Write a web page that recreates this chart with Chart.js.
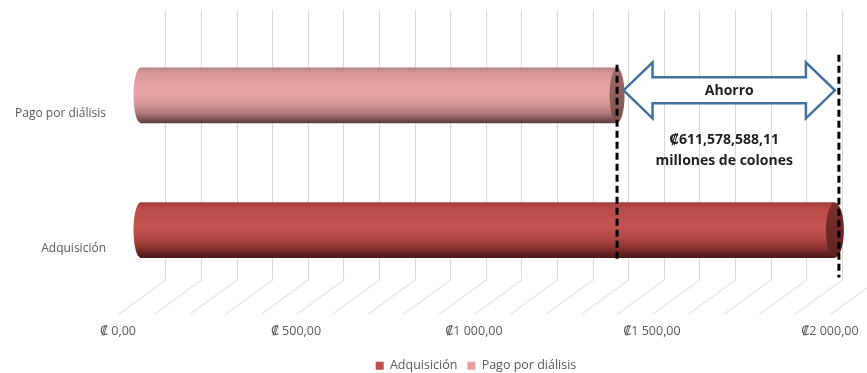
<!DOCTYPE html>
<html>
<head>
<meta charset="utf-8">
<script src="https://cdn.jsdelivr.net/npm/chart.js@4/dist/chart.umd.min.js"></script>
<style>
  html, body { margin: 0; padding: 0; background: #ffffff; }
  #wrap { width: 867px; height: 373px; position: relative; }
</style>
</head>
<body>
<div id="wrap"><canvas id="c"></canvas></div>
<script>
// ---- data ----
const categories = ['Pago por diálisis', 'Adquisición'];
const seriesNames = ['Adquisición', 'Pago por diálisis'];
const adquisicionValues = [null, 1952];
const pagoDialisisValues = [1340, null];
const xTickValues = [0, 500, 1000, 1500, 2000];
const xTickLabels = ['₡ 0,00', '₡ 500,00', '₡1 000,00', '₡1 500,00', '₡2 000,00'];
const ahorroTitle = 'Ahorro';
const ahorroText = ['₡611,578,588,11', 'millones de colones'];

// ---- styles ----
const FONT = "'Open Sans', 'DejaVu Sans', sans-serif";
const GRAY = '#595959';
const GRID = '#d9d9d9';
const BAR_H = 55;
const styles = [
  { legend: '#c0504d', end: '#7e302e',
    stops: [[0,'#a03f3d'],[0.1,'#b84b48'],[0.42,'#c4534f'],[0.62,'#b64b48'],[0.82,'#8c3331'],[1,'#4a1817']] },
  { legend: '#e6a0a0', end: '#a46a6a',
    stops: [[0,'#b88383'],[0.1,'#d99999'],[0.42,'#eaa6a6'],[0.62,'#dc9c9c'],[0.82,'#b27b7b'],[1,'#5e3c3c']] }
];

function toPoints(values) {
  return values.map((v, i) => v == null ? null : { x: v, y: i + 1 }).filter(p => p);
}

function barGradient(c, yc, st) {
  const g = c.createLinearGradient(0, yc - BAR_H / 2, 0, yc + BAR_H / 2);
  st.stops.forEach(s => g.addColorStop(s[0], s[1]));
  return g;
}

function scriptBg(idx) {
  return (ctx) => {
    const chart = ctx.chart;
    if (!chart.chartArea || !ctx.raw) return styles[idx].legend;
    const yc = chart.scales.y.getPixelForValue(ctx.raw.y);
    return barGradient(chart.ctx, yc, styles[idx]);
  };
}

function zeroPad(s) { s.paddingLeft = 0; s.paddingRight = 0; s.paddingTop = 0; s.paddingBottom = 0; }

// floor (3D perspective lines) drawn from scale positions
const floorPlugin = {
  id: 'floor',
  beforeDatasetsDraw(chart) {
    const { ctx, chartArea } = chart;
    const xg = chart.scales.xg, x = chart.scales.x;
    ctx.save();
    ctx.strokeStyle = GRID;
    ctx.lineWidth = 1;
    for (let v = 0; v <= 2000; v += 100) {
      const bx = xg.getPixelForValue(v);
      const fx = x.getPixelForValue(v) - 22;
      ctx.beginPath();
      ctx.moveTo(bx + 0.5, chartArea.bottom);
      ctx.lineTo(fx + 0.5, chartArea.bottom + 35);
      ctx.stroke();
    }
    ctx.restore();
  }
};

// cylinder caps, dashed markers, arrow and text
const decoPlugin = {
  id: 'deco',
  afterDatasetsDraw(chart) {
    const { ctx } = chart;
    const ends = [];
    chart.data.datasets.forEach((ds, di) => {
      const meta = chart.getDatasetMeta(di);
      meta.data.forEach((el) => {
        const st = styles[di];
        const yc = el.y, base = el.base, end = el.x;
        const ry = BAR_H / 2;
        ctx.save();
        ctx.fillStyle = barGradient(ctx, yc, st);
        ctx.beginPath();
        ctx.ellipse(base + 0.5, yc, 7, ry, 0, Math.PI / 2, Math.PI * 1.5);
        ctx.closePath();
        ctx.fill();
        const rx = di === 0 ? 9 : 7.5;
        const eg = ctx.createLinearGradient(0, yc - ry, 0, yc + ry);
        eg.addColorStop(0, st.end);
        eg.addColorStop(1, di === 0 ? '#5e2321' : '#7d5050');
        ctx.fillStyle = eg;
        ctx.beginPath();
        ctx.ellipse(end, yc, rx, ry, 0, 0, Math.PI * 2);
        ctx.fill();
        ctx.restore();
        ends[di] = { x: end, y: yc, rx };
      });
    });
    const adq = ends[0], pago = ends[1];
    if (!adq || !pago) return;

    ctx.save();
    ctx.strokeStyle = '#000000';
    ctx.lineWidth = 3;
    ctx.setLineDash([7, 4]);
    ctx.beginPath();
    ctx.moveTo(pago.x, pago.y - BAR_H / 2 - 3);
    ctx.lineTo(pago.x, adq.y + BAR_H / 2 + 5);
    ctx.stroke();
    ctx.beginPath();
    ctx.moveTo(adq.x + 4, pago.y - BAR_H / 2 - 13);
    ctx.lineTo(adq.x + 4, adq.y + BAR_H / 2 + 20);
    ctx.stroke();
    ctx.restore();

    const x1 = pago.x + pago.rx - 1, x2 = adq.x;
    const yc = pago.y - 5;
    const hh = 28, sh = 13, hl = 29;
    ctx.save();
    ctx.beginPath();
    ctx.moveTo(x1, yc);
    ctx.lineTo(x1 + hl, yc - hh);
    ctx.lineTo(x1 + hl, yc - sh);
    ctx.lineTo(x2 - hl, yc - sh);
    ctx.lineTo(x2 - hl, yc - hh);
    ctx.lineTo(x2, yc);
    ctx.lineTo(x2 - hl, yc + hh);
    ctx.lineTo(x2 - hl, yc + sh);
    ctx.lineTo(x1 + hl, yc + sh);
    ctx.lineTo(x1 + hl, yc + hh);
    ctx.closePath();
    ctx.fillStyle = '#ffffff';
    ctx.fill();
    ctx.strokeStyle = '#41719c';
    ctx.lineWidth = 2.5;
    ctx.stroke();

    const cx = (x1 + x2) / 2;
    ctx.fillStyle = '#1f1f1f';
    ctx.textAlign = 'center';
    ctx.textBaseline = 'middle';
    ctx.font = "bold 14px " + FONT;
    ctx.fillText(ahorroTitle, cx, yc + 1);
    ctx.fillText(ahorroText[0], cx - 5, yc + 50);
    ctx.fillText(ahorroText[1], cx - 5, yc + 71);
    ctx.restore();
  }
};

const chart = new Chart(document.getElementById('c'), {
  type: 'bar',
  data: {
    datasets: [
      { label: seriesNames[0], data: toPoints(adquisicionValues),
        backgroundColor: scriptBg(0), grouped: false, barThickness: BAR_H, borderWidth: 0 },
      { label: seriesNames[1], data: toPoints(pagoDialisisValues),
        backgroundColor: scriptBg(1), grouped: false, barThickness: BAR_H, borderWidth: 0 }
    ]
  },
  options: {
    indexAxis: 'y',
    responsive: true,
    maintainAspectRatio: false,
    animation: false,
    layout: { padding: { left: 100, right: 15, top: 10, bottom: -9 } },
    scales: {
      y: {
        type: 'linear',
        reverse: true,
        offset: false,
        min: 0.3667,
        max: 2.3667,
        grid: { display: false, drawTicks: false, offset: false },
        border: { display: false },
        afterBuildTicks: (s) => { s.ticks = categories.map((c, i) => ({ value: i + 1 })); },
        afterFit: (s) => { s.width = 40; zeroPad(s); s._computeLabelArea = () => undefined; },
        ticks: {
          padding: 34,
          labelOffset: 18,
          color: GRAY,
          font: { family: FONT, size: 12 },
          callback: (v) => categories[v - 1] || ''
        }
      },
      x: {
        type: 'linear',
        position: 'bottom',
        min: 0,
        max: 2000,
        grid: { display: false, drawTicks: false },
        border: { display: false },
        afterBuildTicks: (s) => { s.ticks = xTickValues.map(v => ({ value: v })); },
        afterFit: (s) => { s.height = 70; zeroPad(s); },
        ticks: {
          padding: 44,
          labelOffset: -22,
          maxRotation: 0,
          autoSkip: false,
          color: GRAY,
          font: { family: FONT, size: 12.5 },
          callback: (v) => xTickLabels[xTickValues.indexOf(v)]
        }
      },
      xg: {
        type: 'linear',
        position: 'top',
        min: -73,
        max: 1927,
        afterBuildTicks: (s) => {
          const t = [];
          for (let v = 0; v <= 1900; v += 100) t.push({ value: v });
          s.ticks = t;
        },
        afterFit: (s) => { s.height = 0; zeroPad(s); },
        grid: { color: GRID, lineWidth: 1, drawTicks: false },
        border: { display: false },
        ticks: { display: false }
      }
    },
    plugins: {
      legend: {
        position: 'bottom',
        labels: {
          color: GRAY,
          font: { family: FONT, size: 12.5 },
          usePointStyle: true,
          pointStyle: 'rect',
          boxWidth: 8,
          boxHeight: 8,
          padding: 10,
          generateLabels: (ch) => ch.data.datasets.map((ds, i) => ({
            text: ds.label, fillStyle: styles[i].legend, strokeStyle: styles[i].legend,
            lineWidth: 0, pointStyle: 'rect', datasetIndex: i, hidden: false, fontColor: GRAY
          }))
        }
      },
      tooltip: { enabled: false }
    }
  },
  plugins: [floorPlugin, decoPlugin]
});
</script>
</body>
</html>
